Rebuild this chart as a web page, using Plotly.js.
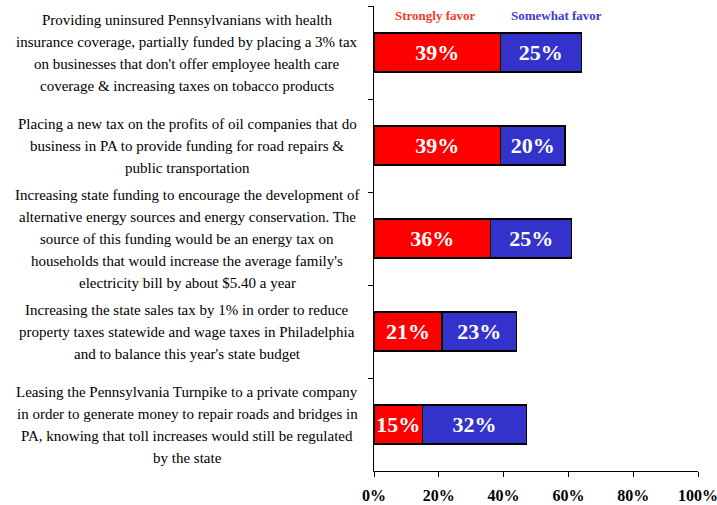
<!DOCTYPE html>
<html>
<head>
<meta charset="utf-8">
<script src="https://cdn.plot.ly/plotly-3.0.1.min.js"></script>
<style>html,body{margin:0;padding:0;background:#fff;}#chart{width:717px;height:505px;}</style>
</head>
<body>
<div id="chart"></div>
<script>
const categories = ["Q1", "Q2", "Q3", "Q4", "Q5"];
const categoryLabels = [
  ["Providing uninsured Pennsylvanians with health", "insurance coverage, partially funded by placing a 3% tax", "on businesses that don't offer employee health care", "coverage & increasing taxes on tobacco products"],
  ["Placing a new tax on the profits of oil companies that do", "business in PA to provide funding for road repairs &", "public transportation"],
  ["Increasing state funding to encourage the development of", "alternative energy sources and energy conservation. The", "source of this funding would be an energy tax on", "households that would increase the average family's", "electricity bill by about $5.40 a year"],
  ["Increasing the state sales tax by 1% in order to reduce", "property taxes statewide and wage taxes in Philadelphia", "and to balance this year's state budget"],
  ["Leasing the Pennsylvania Turnpike to a private company", "in order to generate money to repair roads and bridges in", "PA, knowing that toll increases would still be regulated", "by the state"]
];
const stronglyFavor = [39, 39, 36, 21, 15];
const somewhatFavor = [25, 20, 25, 23, 32];
const seriesNames = ["Strongly favor", "Somewhat favor"];
const xTickVals = [0, 20, 40, 60, 80, 100];
const xTickText = ["0%", "20%", "40%", "60%", "80%", "100%"];

const serif = "Liberation Serif";
const red = "#FF0000", blue = "#3333CC";

function barTrace(vals, name, color) {
  return {
    type: "bar", orientation: "h", name: name,
    y: categories, x: vals,
    text: vals.map(v => "<b>" + v + "%</b>"),
    textposition: "inside", insidetextanchor: "middle",
    constraintext: "none",
    textfont: {family: serif, size: 22, color: "#fff"},
    marker: {color: color, line: {color: "#000", width: 1.5}},
    hoverinfo: "skip"
  };
}

const annotations = [];
const lineH = 22;
categoryLabels.forEach((lines, ci) => {
  const n = lines.length;
  lines.forEach((ln, li) => {
    annotations.push({
      xref: "paper", yref: "y", x: -0.577, y: categories[ci],
      xanchor: "center", yanchor: "middle",
      yshift: ((n - 1) / 2 - li) * lineH,
      text: ln, showarrow: false,
      font: {family: serif, size: 15, color: "#000"}
    });
  });
});
annotations.push({xref: "paper", yref: "paper", x: (435 - 374) / 324, y: 1 - 9 / 465, xanchor: "center", yanchor: "middle",
  text: "<b>" + seriesNames[0] + "</b>", showarrow: false, font: {family: serif, size: 13, color: "#F23A2A"}});
annotations.push({xref: "paper", yref: "paper", x: (556 - 374) / 324, y: 1 - 9 / 465, xanchor: "center", yanchor: "middle",
  text: "<b>" + seriesNames[1] + "</b>", showarrow: false, font: {family: serif, size: 13, color: "#3C3CCC"}});

const layout = {
  width: 717, height: 505,
  margin: {l: 374, r: 19, t: 6, b: 34},
  paper_bgcolor: "#fff", plot_bgcolor: "#fff",
  barmode: "stack", bargap: 0.58,
  showlegend: false,
  xaxis: {
    range: [0, 100], tickvals: xTickVals, ticktext: xTickText.map(t => "<b>" + t + "</b>"),
    ticks: "outside", ticklen: 5, tickcolor: "#000", tickwidth: 1,
    ticklabeloverflow: "allow", ticklabelstandoff: 5,
    showgrid: false, zeroline: false, showline: true, linecolor: "#000", linewidth: 1,
    tickfont: {family: serif, size: 16, color: "#000"}
  },
  yaxis: {
    type: "category", categoryorder: "array", categoryarray: categories,
    autorange: "reversed",
    showticklabels: false, ticks: "outside", tickson: "boundaries", ticklen: 5, tickcolor: "#000",
    showgrid: false, zeroline: false, showline: true, linecolor: "#000", linewidth: 1
  },
  annotations: annotations,
  font: {family: serif}
};

Plotly.newPlot("chart", [barTrace(stronglyFavor, seriesNames[0], red), barTrace(somewhatFavor, seriesNames[1], blue)], layout, {staticPlot: true, displayModeBar: false});
</script>
</body>
</html>
